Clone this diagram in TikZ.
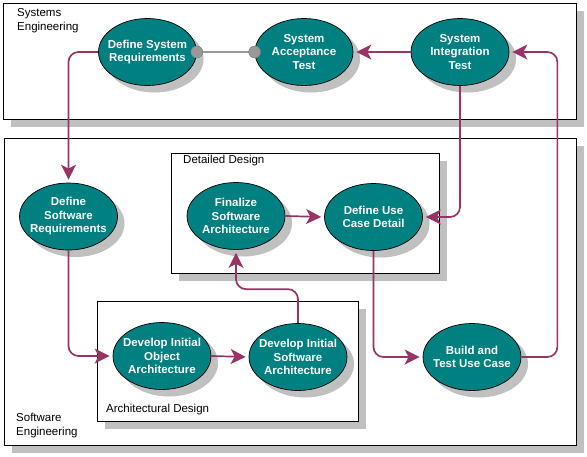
\documentclass[tikz,border=0pt]{standalone}
\usepackage{fontspec}
\setmainfont{Liberation Sans}
\usetikzlibrary{shapes.geometric,shadows,arrows.meta}
\definecolor{teal}{HTML}{008080}
\definecolor{plum}{HTML}{993366}
\definecolor{shade}{HTML}{C0C0C0}
\definecolor{knob}{HTML}{999999}
\tikzset{
	activity/.style = { ellipse, draw=black, line width=0.7pt, fill=teal,
	text=white, font=\bfseries\fontsize{11.5}{13.5}\selectfont, align=center,
	minimum width=98pt, minimum height=67pt, inner xsep=-6pt, inner ysep=0pt,
	general shadow={fill=shade, shadow xshift=7pt, shadow yshift=-7pt} },
	frame/.style    = { rectangle, draw=black, line width=0.8pt, fill=white,
	general shadow={fill=shade, shadow xshift=8pt, shadow yshift=-8pt} },
	caption/.style  = { anchor=north west, inner sep=0pt, align=left,
	font=\fontsize{11.5}{14}\selectfont },
	flow/.style     = { draw=plum, line width=1.7pt, rounded corners=10pt,
	-{Stealth[length=15pt,width=15pt,inset=4pt]}, shorten >=3pt },
	link/.style     = { draw=knob, line width=1.5pt },
	joint/.style    = { circle, fill=knob, draw=knob!80!black, inner sep=0pt,
	minimum size=12pt },
}

\begin{document}
\begin{tikzpicture}[x=1pt,y=-1pt]
	\useasboundingbox (0,0) rectangle (587,456);
	% frames
	\node (sysbox)  [frame, minimum width=573pt, minimum height=116pt] at (289.5,61) {};
	\node (swbox)   [frame, minimum width=572pt, minimum height=307pt] at (290,291.5) {};
	\node (detbox)  [frame, minimum width=268pt, minimum height=120pt] at (305,213) {};
	\node (archbox) [frame, minimum width=261pt, minimum height=120pt] at (227.5,361) {};
	\node (syscap)  [caption] at (17,8)   {Systems\\Engineering};
	\node (swcap)   [caption] at (16,413) {Software\\Engineering};
	\node (detcap)  [caption] at (183,155) {Detailed Design};
	\node (archcap) [caption] at (106,404) {Architectural Design};
	% activities
	\node (dsysreq) [activity] at (147.5,52) {Define System\\Requirements};
	\node (sat)     [activity] at (304,52)   {System\\Acceptance\\Test};
	\node (sit)     [activity] at (460,52)   {System\\Integration\\Test};
	\node (dswreq)  [activity] at (68.5,216.5) {Define\\Software\\Requirements};
	\node (fsa)     [activity] at (236,216)  {Finalize\\Software\\Architecture};
	\node (ducd)    [activity] at (373.5,217) {Define Use\\Case Detail};
	\node (dioa)    [activity] at (162,356)  {Develop Initial\\Object\\Architecture};
	\node (disa)    [activity] at (298,357)  {Develop Initial\\Software\\Architecture};
	\node (btuc)    [activity] at (472,357)  {Build and\\Test Use Case};
	% connectors
	\draw[link] (dsysreq.east) -- (sat.west);
	\node (j1) [joint] at (dsysreq.east) {};
	\node (j2) [joint] at (sat.west) {};
	\path[flow] (sit.west) -- (sat.east);
	\path[flow] (dsysreq.west) -| (dswreq.north);
	\path[flow] (sit.south) |- (ducd.east);
	\path[flow] (btuc.east) -- ++(36,0) |- (sit.east);
	\path[flow] (ducd.south) |- (btuc.west);
	\path[flow] (dswreq.south) |- (dioa.west);
	\path[flow] (dioa.east) -- (disa.west);
	\path[flow] (disa.north) -- ++(0,-34) -| (fsa.south);
	\path[flow] (fsa.east) -- (ducd.west);
\end{tikzpicture}
\end{document}
